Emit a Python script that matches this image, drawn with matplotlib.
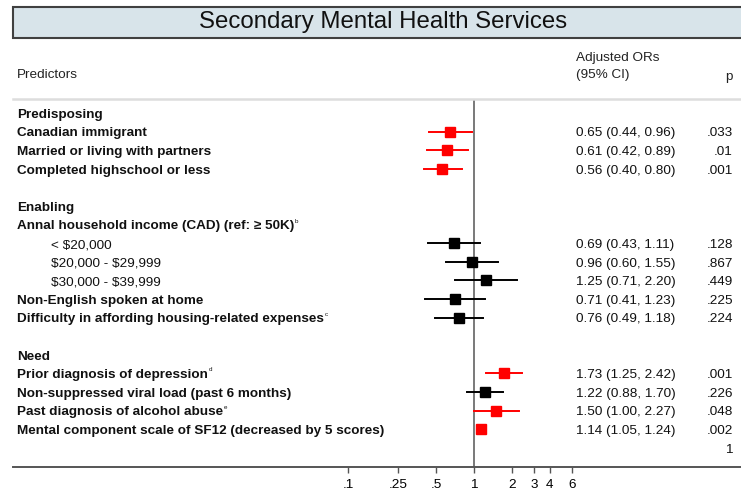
import matplotlib
matplotlib.use("Agg")
import matplotlib.pyplot as plt
import numpy as np
from matplotlib.patches import Rectangle
from matplotlib.ticker import NullLocator

plt.rcParams['font.family'] = ['Liberation Sans', 'DejaVu Sans']
plt.rcParams['text.parse_math'] = False

# rows of the table (top to bottom)
labels = ["Predisposing", "Canadian immigrant", "Married or living with partners",
          "Completed highschool or less", "",
          "Enabling", "Annal household income (CAD) (ref: \u2265 50K)",
          "< $20,000", "$20,000 - $29,999", "$30,000 - $39,999",
          "Non-English spoken at home", "Difficulty in affording housing-related expenses", "",
          "Need", "Prior diagnosis of depression", "Non-suppressed viral load (past 6 months)",
          "Past diagnosis of alcohol abuse",
          "Mental component scale of SF12 (decreased by 5 scores)"]
bold = [True, True, True, True, False, True, True, False, False, False,
        True, True, False, True, True, True, True, True]
indent = [False] * 7 + [True, True, True] + [False] * 8
footnote = {6: "b", 11: "c", 14: "d", 16: "e"}

# estimates (row index -> OR, lower, upper, p)
est_rows = [1, 2, 3, 7, 8, 9, 10, 11, 14, 15, 16, 17]
odds = [0.65, 0.61, 0.56, 0.69, 0.96, 1.25, 0.71, 0.76, 1.73, 1.22, 1.50, 1.14]
lower = [0.44, 0.42, 0.40, 0.43, 0.60, 0.71, 0.41, 0.49, 1.25, 0.88, 1.00, 1.05]
upper = [0.96, 0.89, 0.80, 1.11, 1.55, 2.20, 1.23, 1.18, 2.42, 1.70, 2.27, 1.24]
pvals = [".033", ".01", ".001", ".128", ".867", ".449", ".225", ".224",
         ".001", ".226", ".048", ".002"]

tick_vals = [0.1, 0.25, 0.5, 1, 2, 3, 4, 6]
tick_labels = [".1", ".25", ".5", "1", "2", "3", "4", "6"]

W, H = 741, 492
fig = plt.figure(figsize=(W / 100, H / 100), dpi=100)

# title box
fig.patches.append(Rectangle((13 / W, 1 - 38 / H), 740 / W, 31 / H, transform=fig.transFigure,
                             facecolor="#d8e4ea", edgecolor="#404040", lw=1.5))
fig.text(383 / W, 1 - 22 / H, "Secondary Mental Health Services", ha="center", va="center",
         fontsize=17.3, color="#111111")

# headers
fs = 9.7
fig.text(17 / W, 1 - 75 / H, "Predictors", ha="left", va="center", fontsize=fs, color="#222222")
fig.text(576 / W, 1 - 58 / H, "Adjusted ORs", ha="left", va="center", fontsize=fs, color="#222222")
fig.text(576 / W, 1 - 75 / H, "(95% CI)", ha="left", va="center", fontsize=fs, color="#222222")
fig.text(733 / W, 1 - 77 / H, "p", ha="right", va="center", fontsize=fs, color="#222222")

ax = fig.add_axes([13 / W, 1 - 467 / H, (W - 13) / W, (467 - 99) / H])
ax.set_xscale("log")
ax.set_xlim(10 ** -3.66, 10 ** 2.12)
ax.set_ylim(19.03, -0.753)
for s in ["left", "right"]:
    ax.spines[s].set_visible(False)
ax.spines["top"].set_color("#dddddd")
ax.spines["top"].set_linewidth(1.8)
ax.spines["bottom"].set_color("#555555")
ax.spines["bottom"].set_linewidth(1.4)
ax.set_yticks([])
ax.set_xticks(tick_vals)
ax.set_xticklabels(tick_labels, fontsize=fs)
ax.xaxis.set_minor_locator(NullLocator())
ax.tick_params(axis="x", length=4, width=1, color="#555555", pad=5)

ax.axvline(1, color="#555555", lw=1.1, zorder=1)

tr = ax.get_yaxis_transform()
for i, lab in enumerate(labels):
    if not lab:
        continue
    x = 0.0518 if indent[i] else 0.0055
    t = ax.text(x, i + 0.1, lab, transform=tr, ha="left", va="center", fontsize=fs,
                fontweight="bold" if bold[i] else "normal", color="#111111")
    if i in footnote:
        ax.annotate(footnote[i], xy=(1, 0.95), xycoords=t, xytext=(0.6, 0),
                    textcoords="offset points", fontsize=4.5, ha="left", va="center",
                    color="#111111")

for r, o, lo, hi, p in zip(est_rows, odds, lower, upper, pvals):
    c = "#ff0000" if float(p) < 0.05 else "black"
    ax.plot([lo, hi], [r, r], color=c, lw=1.4, zorder=2)
    ax.plot(o, r, marker="s", ms=7, color=c, zorder=3)
    ax.text(0.7734, r + 0.1, f"{o:.2f} ({lo:.2f}, {hi:.2f})", transform=tr, ha="left",
            va="center", fontsize=fs, color="#111111")
    ax.text(0.989, r + 0.1, p, transform=tr, ha="right", va="center", fontsize=fs,
            color="#111111")

ax.text(0.989, 18.1, "1", transform=tr, ha="right", va="center", fontsize=fs, color="#111111")

fig.savefig("out.png", dpi=100)
